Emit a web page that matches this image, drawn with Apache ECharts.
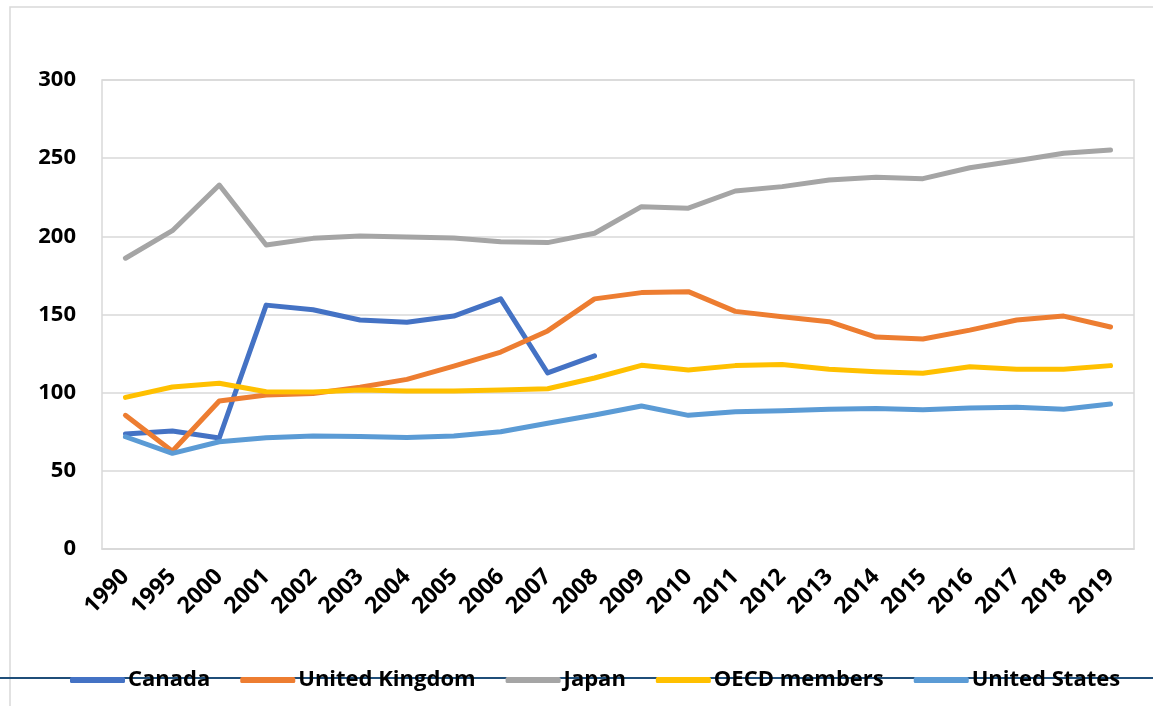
<!DOCTYPE html>
<html>
<head>
<meta charset="utf-8">
<script src="https://cdn.jsdelivr.net/npm/echarts@6/dist/echarts.min.js"></script>
<style>
html,body{margin:0;padding:0;background:#fff;}
#chart{width:1153px;height:706px;}
</style>
</head>
<body>
<div id="chart"></div>
<script>
const years = ['1990','1995','2000','2001','2002','2003','2004','2005','2006','2007','2008','2009','2010','2011','2012','2013','2014','2015','2016','2017','2018','2019'];
const canada = [73.6,75.5,71,156,153,146.5,145,149,160,112.6,123.5,null,null,null,null,null,null,null,null,null,null,null];
const unitedKingdom = [85.5,62.5,94.7,98.5,99.5,103.5,108.5,117,126,139.5,160,164,164.6,152,148.6,145.4,135.6,134.3,140,146.5,149,142];
const japan = [186,203.6,232.8,194.5,198.7,200.2,199.5,199,196.5,196,202,219,218,229,231.8,236,237.8,236.9,243.9,248.4,253.1,255.2];
const oecd = [97,103.6,106,100.6,100.5,101.7,101,101,101.7,102.5,109.4,117.5,114.5,117.3,118,115,113.4,112.4,116.6,115,115,117.3];
const unitedStates = [71.8,61.2,68.6,71.2,72.3,72,71.4,72.3,75,80.4,85.7,91.5,85.5,87.8,88.5,89.4,89.8,89,90.2,90.6,89.4,92.8];
const seriesNames = ['Canada','United Kingdom','Japan','OECD members','United States'];
const seriesColors = ['#4472C4','#ED7D31','#A5A5A5','#FFC000','#5B9BD5'];
const seriesData = [canada, unitedKingdom, japan, oecd, unitedStates];

const chart = echarts.init(document.getElementById('chart'));
const font = '"Open Sans", "Liberation Sans", sans-serif';
chart.setOption({
  animation: false,
  backgroundColor: '#fff',
  color: seriesColors,
  graphic: [
    { type: 'rect', shape: { x: 10, y: 7, width: 1200, height: 800 }, style: { fill: 'none', stroke: '#d9d9d9', lineWidth: 1.5 }, z: -1 },
    { type: 'line', shape: { x1: 0, y1: 678, x2: 1153, y2: 678 }, style: { stroke: '#1F4E79', lineWidth: 2 }, z: 0 }
  ],
  grid: { left: 102, right: 19, top: 80, bottom: 157, show: true, borderColor: '#d9d9d9', borderWidth: 1.5, containLabel: false },
  legend: {
    data: seriesNames,
    left: 65, top: 664,
    icon: 'roundRect',
    itemWidth: 55, itemHeight: 6,
    itemGap: 30,
    z: 10,
    textStyle: { fontFamily: font, fontWeight: 'bold', fontSize: 22, color: '#000', padding: [0,0,0,-2] }
  },
  xAxis: {
    type: 'category',
    data: years,
    boundaryGap: true,
    axisLine: { show: true, lineStyle: { color: '#d9d9d9', width: 1.5 } },
    axisTick: { show: false },
    axisLabel: { rotate: 45, interval: 0, margin: 24, fontFamily: font, fontWeight: 'bold', fontSize: 23, color: '#000' }
  },
  yAxis: {
    type: 'value',
    min: 0, max: 300, interval: 50,
    axisLine: { show: false },
    axisTick: { show: false },
    splitLine: { lineStyle: { color: '#d9d9d9', width: 1.5 } },
    axisLabel: { margin: 26, fontFamily: font, fontWeight: 'bold', fontSize: 22, color: '#000' }
  },
  series: seriesNames.map((n, i) => ({
    name: n,
    type: 'line',
    data: seriesData[i],
    symbol: 'none',
    connectNulls: false,
    lineStyle: { width: 5, color: seriesColors[i], cap: 'round', join: 'round' },
    itemStyle: { color: seriesColors[i] }
  }))
});
</script>
</body>
</html>
